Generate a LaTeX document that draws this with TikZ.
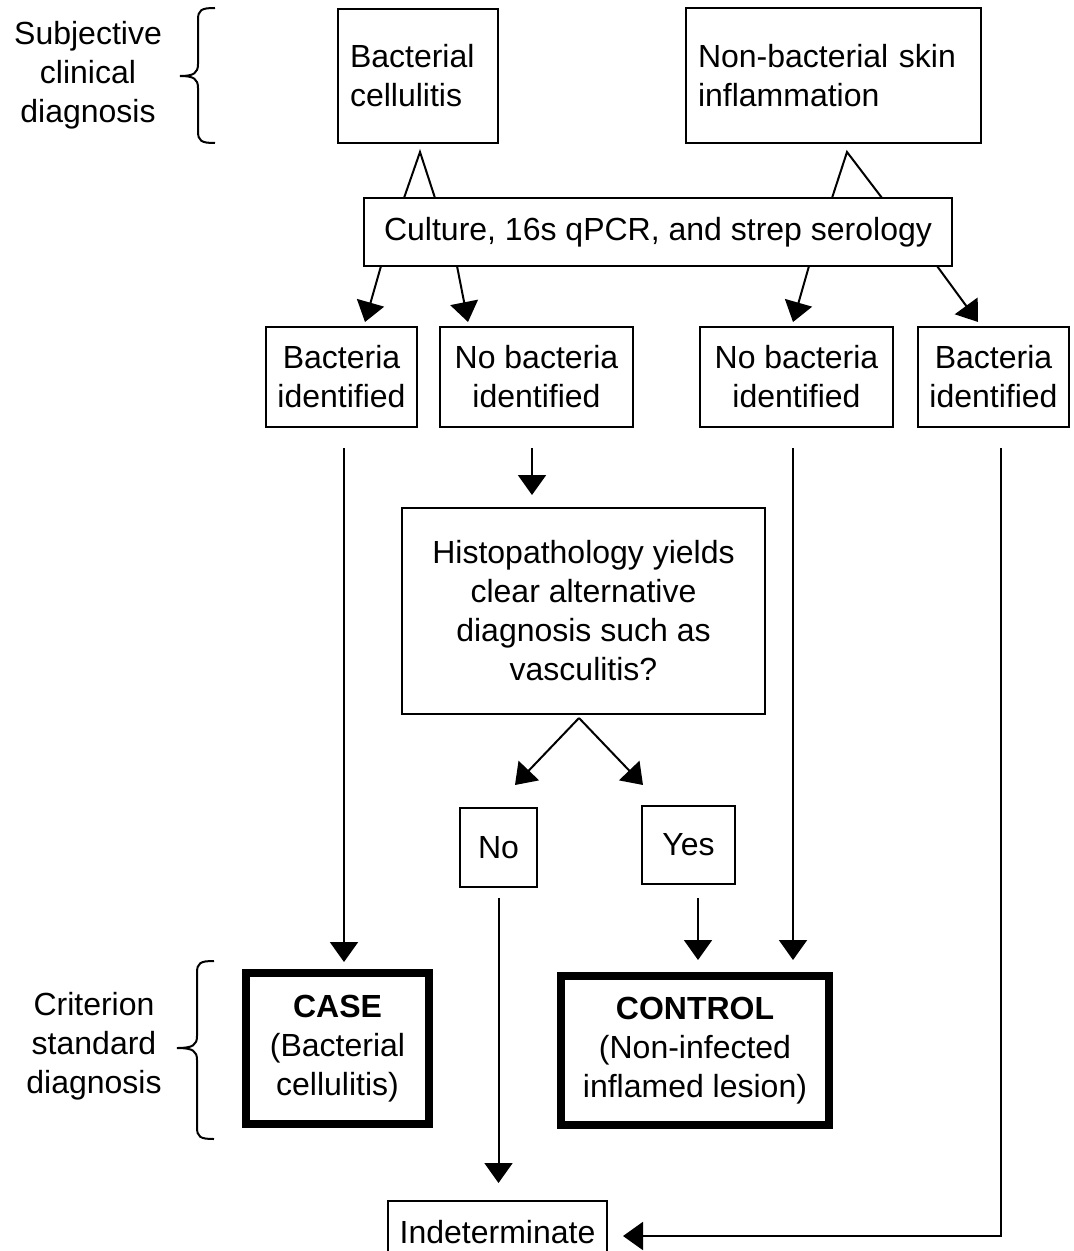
\documentclass[tikz,border=0pt]{standalone}
\usepackage{fontspec}
\setmainfont{Liberation Sans}
\usetikzlibrary{arrows.meta,calc}
\begin{document}
\begin{tikzpicture}[x=0.5pt,y=-0.5pt,
  every node/.style={outer sep=0pt, font=\fontsize{16}{19.5}\selectfont},
  plainbox/.style={draw, line width=1pt, inner sep=0pt, align=center},
  leftbox/.style={draw, line width=1pt, inner xsep=6pt, inner ysep=0pt, align=left},
  bigbox/.style={draw, line width=3.7pt, inner sep=0pt, align=center},
  conn/.style={line width=1pt},
  arr/.style={conn, -{Triangle[width=14pt,length=10pt]}},
  bracket/.style={line width=1pt}
]
\path[use as bounding box, clip] (0,0) rectangle (1073,1251);
\fill[white] (0,0) rectangle (1073,1251);

% labels
\node[align=center] (l1) at (88,75) {Subjective\\clinical\\diagnosis};
\node[align=center] (l2) at (94,1046) {Criterion\\standard\\diagnosis};

% brackets
\draw[bracket] (215,8) .. controls (201,8) and (198,10) .. (198,20) -- (198,64)
  .. controls (198,73) and (194,76) .. (180,76)
  .. controls (194,76) and (198,79) .. (198,88) -- (198,131)
  .. controls (198,141) and (201,143) .. (215,143);
\draw[bracket] (214,961) .. controls (200,961) and (197,963) .. (197,973) -- (197,1036)
  .. controls (197,1045) and (193,1048) .. (177,1048)
  .. controls (193,1048) and (197,1051) .. (197,1060) -- (197,1127)
  .. controls (197,1137) and (200,1139) .. (214,1139);

% nodes
\node[leftbox, text width=68pt, minimum height=67pt] (bc) at (418,76) {Bacterial\\cellulitis};
\node[leftbox, text width=135.5pt, minimum height=67.5pt] (nb) at (833.5,75.5) {Non-bacterial skin\\inflammation};
\node[plainbox, minimum width=294pt, minimum height=34pt] (cu) at (658,232) {Culture, 16s qPCR, and strep serology};
\node[plainbox, minimum width=75.5pt, minimum height=50pt] (b1) at (341.5,377) {Bacteria\\identified};
\node[plainbox, minimum width=96.5pt, minimum height=50pt] (n1) at (536.5,377) {No bacteria\\identified};
\node[plainbox, minimum width=96.5pt, minimum height=50pt] (n2) at (796.5,377) {No bacteria\\identified};
\node[plainbox, minimum width=75.5pt, minimum height=50pt] (b2) at (993.5,377) {Bacteria\\identified};
\node[plainbox, minimum width=181.5pt, minimum height=103pt] (hi) at (583.5,611) {Histopathology yields\\clear alternative\\diagnosis such as\\vasculitis?};
\node[plainbox, minimum width=38.5pt, minimum height=39.5pt] (no) at (498.5,847.5) {No};
\node[plainbox, minimum width=46.5pt, minimum height=39pt] (ye) at (688.5,845) {Yes};
\node[bigbox, minimum width=91.5pt, minimum height=75.5pt] (ca) at (337.5,1048.5) {\textbf{CASE}\\(Bacterial\\cellulitis)};
\node[bigbox, minimum width=134pt, minimum height=74.5pt] (co) at (695,1050.5) {\textbf{CONTROL}\\(Non-infected\\inflamed lesion)};
\node[plainbox, minimum width=109.5pt, minimum height=31pt] (in) at (497.5,1232) {Indeterminate};

% converging lines from clinical diagnoses to tests
\coordinate (apL) at (420,152);
\coordinate (apR) at (847,152);
\draw[conn] ($(cu.north west)+(40,0)$) -- (apL) -- ($(cu.north west)+(71,0)$);
\draw[conn] ($(cu.north west)+(468,0)$) -- (apR) -- ($(cu.north west)+(518,0)$);

% test results
\draw[arr] ($(cu.south west)+(17,0)$) -- ($(b1.north west)+(99,-5)$);
\draw[arr] ($(cu.south west)+(93,0)$) -- ($(n1.north west)+(28,-5)$);
\draw[arr] ($(cu.south west)+(445,0)$) -- ($(n2.north west)+(93,-5)$);
\draw[arr] ($(cu.south west)+(573,0)$) -- ($(b2.north west)+(60,-5)$);

% downstream
\draw[arr] ($(b1.south)+(2.5,21)$) -- ($(ca.north)+(6.5,-11)$);
\draw[arr] ($(n1.south)+(-4.5,21)$) -- ($(hi.north)+(-51.5,-13)$);
\draw[arr] ($(n2.south)+(-3.5,21)$) -- ($(co.north)+(98,-16)$);
\draw[arr] ($(b2.south)+(7.5,21)$) |- ($(in.east)+(16,4)$);

\coordinate (apH) at ($(hi.south)+(-4.5,4)$);
\draw[arr] (apH) -- ($(no.north)+(16.5,-23)$);
\draw[arr] (apH) -- ($(ye.north)+(-45.5,-21)$);

\draw[arr] ($(no.south)+(0,11)$) -- ($(in.north)+(1,-18)$);
\draw[arr] ($(ye.south)+(9.5,14)$) -- ($(co.north)+(3,-16)$);
\end{tikzpicture}
\end{document}
